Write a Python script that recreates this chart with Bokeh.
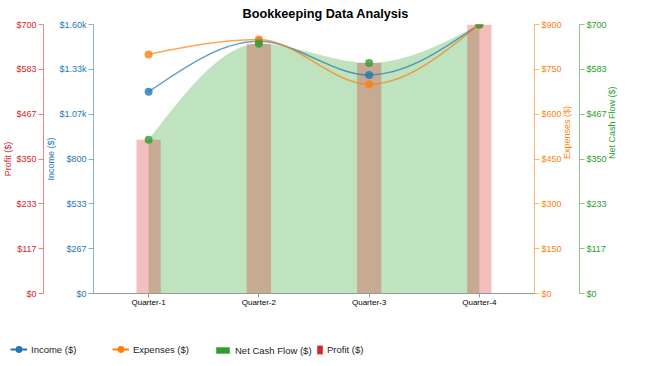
import math
from bokeh.plotting import figure
from bokeh.models import (Range1d, LinearAxis, FixedTicker, CustomJSTickFormatter,
                          Legend, LegendItem, ColumnDataSource)
from bokeh.embed import file_html
from bokeh.resources import INLINE

# ---- data ----
quarters = ["Quarter-1", "Quarter-2", "Quarter-3", "Quarter-4"]
income = [1200, 1500, 1300, 1600]
expenses = [800, 850, 700, 900]
net_cash_flow = [400, 650, 600, 700]
profit = [400, 650, 600, 700]

FONT = "Liberation Sans"
BLUE, ORANGE, GREEN, RED = "#1f77b4", "#ff7f0e", "#2ca02c", "#d62728"

xs = [i + 0.5 for i in range(len(quarters))]


def monotone_tangents(x, y):
    n = len(x)
    t = [0.0] * n
    sign = lambda v: (v > 0) - (v < 0)
    for i in range(1, n - 1):
        h0 = x[i] - x[i - 1]
        h1 = x[i + 1] - x[i]
        s0 = (y[i] - y[i - 1]) / h0
        s1 = (y[i + 1] - y[i]) / h1
        p = (s0 * h1 + s1 * h0) / (h0 + h1)
        t[i] = (sign(s0) + sign(s1)) * min(abs(s0), abs(s1), 0.5 * abs(p))
    t[0] = (3 * (y[1] - y[0]) / (x[1] - x[0]) - t[1]) / 2
    t[-1] = (3 * (y[-1] - y[-2]) / (x[-1] - x[-2]) - t[-2]) / 2
    return t


def bezier_segments(x, y):
    t = monotone_tangents(x, y)
    d = dict(x0=[], y0=[], x1=[], y1=[], cx0=[], cy0=[], cx1=[], cy1=[])
    for i in range(len(x) - 1):
        dx = (x[i + 1] - x[i]) / 3
        d["x0"].append(x[i]); d["y0"].append(y[i])
        d["x1"].append(x[i + 1]); d["y1"].append(y[i + 1])
        d["cx0"].append(x[i] + dx); d["cy0"].append(y[i] + dx * t[i])
        d["cx1"].append(x[i + 1] - dx); d["cy1"].append(y[i + 1] - dx * t[i + 1])
    return d


def sample_curve(x, y, steps=40):
    seg = bezier_segments(x, y)
    px, py = [], []
    for i in range(len(seg["x0"])):
        P = [(seg["x0"][i], seg["y0"][i]), (seg["cx0"][i], seg["cy0"][i]),
             (seg["cx1"][i], seg["cy1"][i]), (seg["x1"][i], seg["y1"][i])]
        for k in range(steps + (1 if i == len(seg["x0"]) - 1 else 0)):
            u = k / steps
            a, b, c, e = (1 - u) ** 3, 3 * u * (1 - u) ** 2, 3 * u * u * (1 - u), u ** 3
            px.append(a * P[0][0] + b * P[1][0] + c * P[2][0] + e * P[3][0])
            py.append(a * P[0][1] + b * P[1][1] + c * P[2][1] + e * P[3][1])
    return px, py


p = figure(frame_width=441, frame_height=269,
           x_range=Range1d(0, len(quarters)), y_range=Range1d(0, max(profit)),
           y_axis_location=None, output_backend="svg", toolbar_location=None,
           title="Bookkeeping Data Analysis", min_border=0,
           min_border_top=0, min_border_bottom=0, min_border_right=10)
p.extra_y_ranges = {
    "income": Range1d(0, max(income)),
    "expenses": Range1d(0, max(expenses)),
    "ncf": Range1d(0, max(net_cash_flow)),
}
p.grid.visible = False
p.outline_line_color = None
p.background_fill_color = "white"
p.border_fill_color = "white"

p.title.align = "left"
p.title.offset = 149
p.title.text_font = FONT
p.title.text_font_size = "12.7px"
p.title.text_font_style = "bold"
p.title.text_color = "#000000"
p.title.standoff = 8

# x axis
xa = p.xaxis[0]
xa.ticker = FixedTicker(ticks=xs)
xa.major_label_overrides = {x: q for x, q in zip(xs, quarters)}
xa.major_label_text_font = FONT
xa.major_label_text_font_size = "8px"
xa.major_label_text_color = "#000000"
xa.axis_line_color = "#999999"
xa.major_tick_line_color = "#999999"
xa.major_tick_out = 4
xa.major_tick_in = 0
xa.minor_tick_line_color = None
xa.major_label_standoff = 0


def fmt_code():
    return """
    if (tick >= 1000) { return '$' + (tick / 1000).toFixed(2) + 'k'; }
    return '$' + Math.round(tick);
    """


def make_axis(range_name, vmax, color, label, standoff, right=False):
    ax = LinearAxis(y_range_name=range_name, axis_label=label,
                    ticker=FixedTicker(ticks=[vmax * i / 6 for i in range(7)]),
                    formatter=CustomJSTickFormatter(code=fmt_code()))
    ax.axis_line_color = color
    ax.axis_line_alpha = 0.55
    ax.major_tick_line_color = color
    ax.major_tick_line_alpha = 0.55
    ax.major_tick_out = 5
    ax.major_tick_in = 0
    ax.minor_tick_line_color = None
    ax.major_label_text_color = color
    ax.major_label_text_font = FONT
    ax.major_label_text_font_size = "9px"
    ax.major_label_standoff = 2
    ax.axis_label_text_color = color
    ax.axis_label_text_font = FONT
    ax.axis_label_text_font_size = "9px"
    ax.axis_label_text_font_style = "normal"
    ax.axis_label_standoff = standoff
    if right:
        try:
            ax.axis_label_orientation = math.pi / 2
        except Exception:
            pass
    return ax


p.add_layout(make_axis("income", max(income), BLUE, "Income ($)", 0), "left")
p.add_layout(make_axis("default", max(profit), RED, "Profit ($)", 0), "left")
p.add_layout(make_axis("expenses", max(expenses), ORANGE, "Expenses ($)", 2, True), "right")
p.add_layout(make_axis("ncf", max(net_cash_flow), GREEN, "Net Cash Flow ($)", 2, True), "right")

# net cash flow area
ax_, ay_ = sample_curve(xs, net_cash_flow)
p.varea(x=ax_, y1=[0] * len(ax_), y2=ay_, fill_color=GREEN, fill_alpha=0.3,
        y_range_name="ncf")

# profit bars
p.vbar(x=xs, top=profit, width=0.22, fill_color=RED, fill_alpha=0.3,
       line_color=None)

# lines
p.bezier(source=ColumnDataSource(bezier_segments(xs, income)), x0="x0", y0="y0",
         x1="x1", y1="y1", cx0="cx0", cy0="cy0", cx1="cx1", cy1="cy1",
         line_color=BLUE, line_width=1.5, line_alpha=0.7, y_range_name="income")
p.bezier(source=ColumnDataSource(bezier_segments(xs, expenses)), x0="x0", y0="y0",
         x1="x1", y1="y1", cx0="cx0", cy0="cy0", cx1="cx1", cy1="cy1",
         line_color=ORANGE, line_width=1.5, line_alpha=0.7, y_range_name="expenses")

p.scatter(xs, income, size=8, fill_color=BLUE, fill_alpha=0.8, line_color=None,
          y_range_name="income")
p.scatter(xs, expenses, size=8, fill_color=ORANGE, fill_alpha=0.8, line_color=None,
          y_range_name="expenses")
p.scatter(xs, net_cash_flow, size=8, fill_color=GREEN, fill_alpha=0.8, line_color=None,
          y_range_name="ncf")

# ---- legend strip (separate root figure, legends inside its frame) ----
lg = figure(width=630, height=50, x_range=Range1d(0, 1), y_range=Range1d(0, 1),
            x_axis_location=None, y_axis_location=None, output_backend="svg",
            toolbar_location=None, min_border=0)
lg.grid.visible = False
lg.outline_line_color = None
lg.background_fill_color = "white"
lg.border_fill_color = "white"

# legend proxies: one point each, placed outside the visible range
off = [-5]
li_l = lg.line(off * 2, off * 2, line_color=BLUE, line_width=2)
li_s = lg.scatter(off, off, fill_color=BLUE, line_color=None, size=8)
le_l = lg.line(off * 2, off * 2, line_color=ORANGE, line_width=2)
le_s = lg.scatter(off, off, fill_color=ORANGE, line_color=None, size=8)
ln_b = lg.vbar(x=off, top=off, width=0.2, fill_color=GREEN, line_color=None)
lp_b = lg.vbar(x=off, top=off, width=0.2, fill_color=RED, line_color=None)


def add_legend(label, renderers, loc, gw, gh):
    leg = Legend(items=[LegendItem(label=label, renderers=renderers)],
                 location=loc, glyph_width=gw, glyph_height=gh,
                 label_text_font=FONT, label_text_font_size="9.5px",
                 label_text_color="#222222", label_standoff=4, label_height=12,
                 padding=0, margin=0, border_line_color=None,
                 background_fill_alpha=0, orientation="horizontal")
    lg.add_layout(leg)


add_legend("Income ($)", [li_l, li_s], (10, 1), 17, 18)
add_legend("Expenses ($)", [le_l, le_s], (112, 1), 17, 18)
add_legend("Net Cash Flow ($)", [ln_b], (214, 3), 17, 8)
add_legend("Profit ($)", [lp_b], (316, 4), 7, 11)

open("out.html", "w").write(file_html([p, lg], INLINE))
